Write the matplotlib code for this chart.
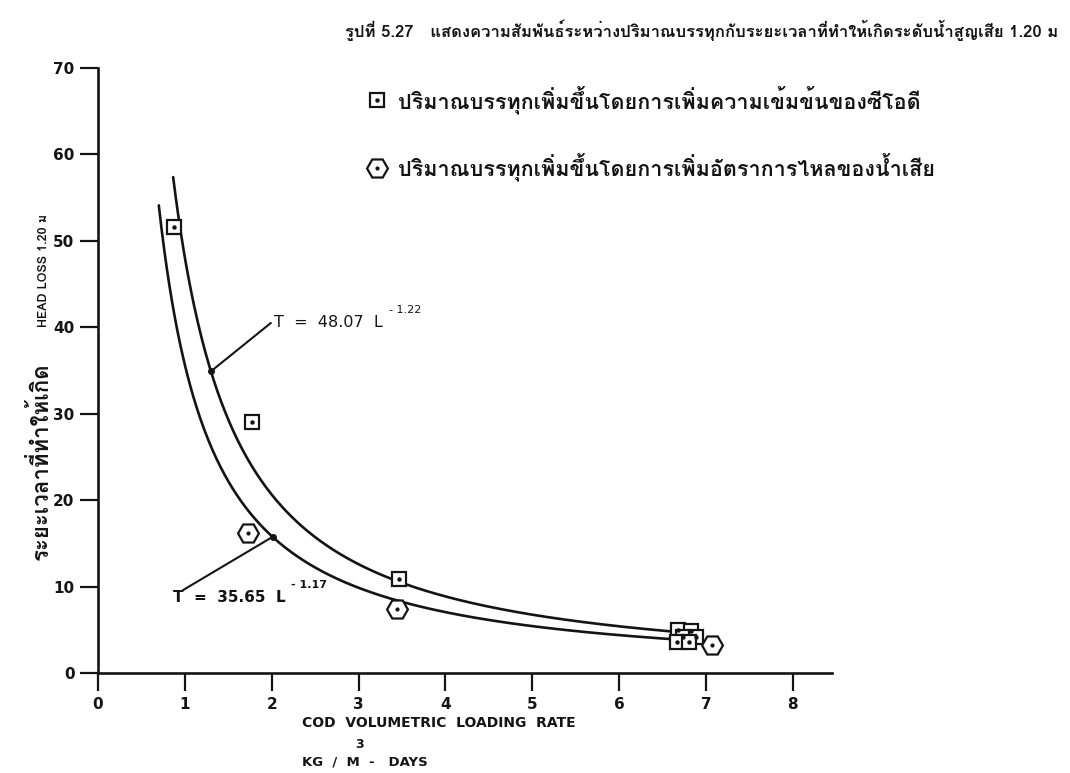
import numpy as np
import matplotlib
matplotlib.use("Agg")
import matplotlib.pyplot as plt
from matplotlib import font_manager
from matplotlib.ft2font import FT2Font
from matplotlib.font_manager import FontProperties

# ---- data -------------------------------------------------------------
# COD volumetric loading rate (kg/m3-day) vs time to reach 1.20 m head loss
loading_cod = [0.87, 1.77, 3.47, 6.68, 6.83, 6.73, 6.88, 6.66, 6.80]
time_cod = [51.6, 29.0, 10.9, 5.0, 4.9, 4.2, 4.2, 3.6, 3.6]

loading_flow = [1.73, 3.44, 7.07]
time_flow = [16.2, 7.4, 3.2]

# power-law fits T = a * L^b
fit_cod = (48.07, -1.22)
fit_flow = (35.65, -1.17)
fit_cod_span = (0.865, 6.85)
fit_flow_span = (0.70, 6.85)

x_ticks = [0, 1, 2, 3, 4, 5, 6, 7, 8]
y_ticks = [0, 10, 20, 30, 40, 50, 60, 70]

title_text = "รูปที่ 5.27   แสดงความสัมพันธ์ระหว่างปริมาณบรรทุกกับระยะเวลาที่ทำให้เกิดระดับน้ำสูญเสีย 1.20 ม"
legend_cod = "ปริมาณบรรทุกเพิ่มขึ้นโดยการเพิ่มความเข้มข้นของซีโอดี"
legend_flow = "ปริมาณบรรทุกเพิ่มขึ้นโดยการเพิ่มอัตราการไหลของน้ำเสีย"
ylabel_thai = "ระยะเวลาที่ทำให้เกิด"
ylabel_head = "HEAD LOSS 1.20 ม"
xlabel_text = "COD  VOLUMETRIC  LOADING  RATE"
xunit_text = "KG  /  M  -   DAYS"


def thai_capable_family():
    for fe in font_manager.fontManager.ttflist:
        try:
            cmap = FT2Font(fe.fname).get_charmap()
        except Exception:
            continue
        if 0x0E01 in cmap and 0x0E34 in cmap and 0x0E48 in cmap:
            return fe.name
    return "DejaVu Sans"


thai = thai_capable_family()
INK = "#141414"

plt.rcParams["font.family"] = [thai, "DejaVu Sans"]

fig = plt.figure(figsize=(10.70, 7.73), dpi=100)
fig.patch.set_facecolor("white")
ax = fig.add_axes([98 / 1070, 100 / 773, 734 / 1070, 605 / 773])
ax.set_xlim(0, 8.45)
ax.set_ylim(0, 70)

for side in ("top", "right"):
    ax.spines[side].set_visible(False)
for side in ("left", "bottom"):
    ax.spines[side].set_linewidth(1.9)
    ax.spines[side].set_color(INK)

ax.set_xticks(x_ticks)
ax.set_yticks(y_ticks)
ax.tick_params(axis="both", direction="out", length=13, width=1.6,
               color=INK, labelcolor=INK, labelsize=11, pad=4)
for lab in ax.get_xticklabels() + ax.get_yticklabels():
    lab.set_fontfamily("DejaVu Sans")
    lab.set_fontweight("bold")

# fitted curves
for (a, b), (lo, hi) in ((fit_cod, fit_cod_span), (fit_flow, fit_flow_span)):
    L = np.linspace(lo, hi, 400)
    ax.plot(L, a * L ** b, color=INK, lw=1.9, solid_capstyle="round", zorder=2)

# measured points: open markers with a centre dot
sq, = ax.plot(loading_cod, time_cod, ls="none", marker="s", ms=9.5,
              mfc="white", mec=INK, mew=1.6, zorder=4)
sq_dot, = ax.plot(loading_cod, time_cod, ls="none", marker="o", ms=2.2,
                  mfc=INK, mec=INK, zorder=5)
hx, = ax.plot(loading_flow, time_flow, ls="none", marker="H", ms=15,
              mfc="white", mec=INK, mew=1.6, zorder=4)
hx_dot, = ax.plot(loading_flow, time_flow, ls="none", marker="o", ms=2.0,
                  mfc=INK, mec=INK, zorder=5)

# legend
leg = ax.legend(handles=[(sq, sq_dot), (hx, hx_dot)],
                labels=[legend_cod, legend_flow],
                loc="upper left", bbox_to_anchor=(368 / 1070, 1 - 85 / 773),
                bbox_transform=fig.transFigure, frameon=False,
                prop=FontProperties(family=[thai, "DejaVu Sans"], size=15.5, weight="bold"),
                handlelength=0.8, handletextpad=0.6, labelspacing=1.8,
                borderpad=0, borderaxespad=0)
for t in leg.get_texts():
    t.set_color(INK)

# equation labels with leader lines
def equation(fit, L_at, text_xy, line_from, weight, size):
    a, b = fit
    tip = (L_at, a * L_at ** b)
    ax.annotate("", xy=tip, xytext=line_from,
                arrowprops=dict(arrowstyle="-", color=INK, lw=1.5,
                                shrinkA=0, shrinkB=0))
    ax.plot(*tip, marker="o", ms=4, color=INK, zorder=3)
    main = ax.text(*text_xy, f"T  =  {a:.2f}  L", fontsize=size,
                   fontweight=weight, color=INK, family="DejaVu Sans",
                   va="center", ha="left")
    ax.annotate(f"- {abs(b):.2f}", xy=(1, 1), xycoords=main,
                xytext=(4, 0), textcoords="offset points",
                fontsize=8, fontweight=weight, color=INK,
                family="DejaVu Sans", va="bottom", ha="left")


equation(fit_cod, 1.30, (2.03, 40.5), (1.99, 40.5), "normal", 11.5)
equation(fit_flow, 2.01, (0.86, 8.7), (0.98, 9.6), "bold", 11)

# title and axis labels
fig.text(345 / 1070, 1 - 30 / 773, title_text, fontsize=12.0, fontweight="bold",
         color=INK, ha="left", va="center")
fig.text(40 / 1070, 1 - 461 / 773, ylabel_thai, rotation=90, fontsize=16,
         fontweight="bold", color=INK, ha="center", va="center")
fig.text(44 / 1070, 1 - 270 / 773, ylabel_head, rotation=90, fontsize=9,
         fontweight="bold", color=INK, ha="center", va="center")
fig.text(439 / 1070, 1 - 723 / 773, xlabel_text, fontsize=10, fontweight="bold",
         color=INK, ha="center", va="center", family="DejaVu Sans")
fig.text(360 / 1070, 1 - 745 / 773, "3", fontsize=9, fontweight="bold",
         color=INK, ha="center", va="center", family="DejaVu Sans")
fig.text(302 / 1070, 1 - 762 / 773, xunit_text, fontsize=9.5, fontweight="bold",
         color=INK, ha="left", va="center", family="DejaVu Sans")

fig.savefig("out.png", dpi=100, facecolor="white")
